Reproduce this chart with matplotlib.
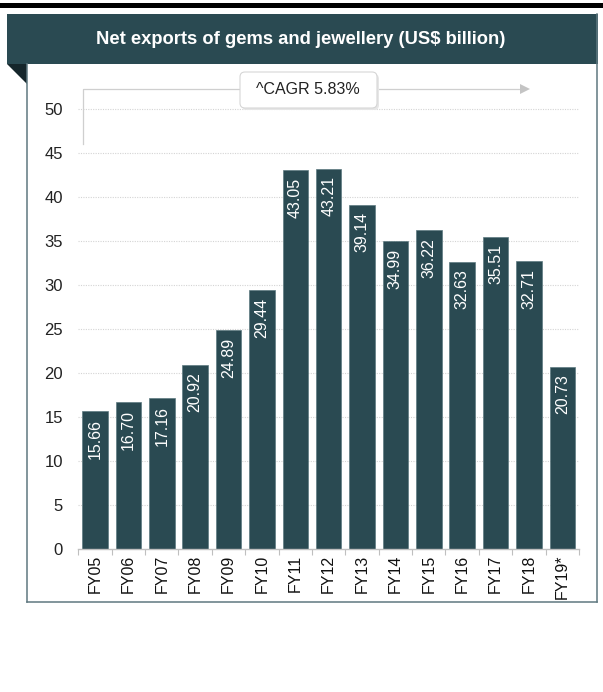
import matplotlib
matplotlib.use("Agg")
import matplotlib.pyplot as plt
from matplotlib.patches import Rectangle, Polygon, FancyBboxPatch
from matplotlib.lines import Line2D
from matplotlib.transforms import IdentityTransform

plt.rcParams["font.family"] = ["Liberation Sans", "DejaVu Sans"]

# data
categories = ["FY05", "FY06", "FY07", "FY08", "FY09", "FY10", "FY11", "FY12",
              "FY13", "FY14", "FY15", "FY16", "FY17", "FY18", "FY19*"]
values = [15.66, 16.70, 17.16, 20.92, 24.89, 29.44, 43.05, 43.21,
          39.14, 34.99, 36.22, 32.63, 35.51, 32.71, 20.73]
yticks = list(range(0, 55, 5))
title = "Net exports of gems and jewellery (US$ billion)"
cagr_text = "^CAGR 5.83%"

W, H = 603, 692
dark = "#2a4a52"
fig = plt.figure(figsize=(W / 100, H / 100), dpi=100)
fig.patch.set_facecolor("white")
pix = IdentityTransform()


def P(x, y):
    # pixel coords measured from the top-left corner
    return (x, H - y)


# top black rule and header band
fig.add_artist(Rectangle(P(0, 7.5), W, 4.5, transform=pix, color="black", lw=0))
fig.add_artist(Rectangle(P(7, 64), 591, 50, transform=pix, color=dark, lw=0))
fig.add_artist(Polygon([P(7, 64), P(27, 64), P(27, 84)], transform=pix,
                       closed=True, color="#15262b", lw=0))
fig.text(301 / W, 1 - 39 / H, title, color="white", fontsize=13.2,
         fontweight="bold", ha="center", va="center")

# panel border
border = "#5f7880"
for xs, ys in [([27, 27], [64, 602]), ([27, 597], [602, 602]), ([597, 597], [14, 602])]:
    pts = [P(x, y) for x, y in zip(xs, ys)]
    fig.add_artist(Line2D([p[0] for p in pts], [p[1] for p in pts],
                          transform=pix, color=border, lw=1.1))

# chart
ax = fig.add_axes([78.3 / W, (H - 549) / H, 500.7 / W, 484 / H])
ax.patch.set_visible(False)
x = list(range(len(categories)))
ax.bar(x, values, width=0.765, color=dark, edgecolor="#5d7a80",
       linewidth=0.5, zorder=2)
for yv in yticks[1:]:
    ax.axhline(yv, color="#d4d4d4", lw=0.8, ls=(0, (1, 1.2)), zorder=0)
for i, v in enumerate(values):
    ax.annotate(f"{v:.2f}", (i, v), xytext=(0, -5.5), textcoords="offset points",
                rotation=90, ha="center", va="top", color="white", fontsize=11.5,
                zorder=3)

ax.set_xlim(-0.5, len(categories) - 0.5)
ax.set_ylim(0, 55)
ax.set_yticks(yticks)
ax.set_yticklabels([str(t) for t in yticks])
ax.set_xticks(x)
ax.set_xticklabels(categories, rotation=90)
ax.set_xticks([i - 0.5 for i in range(len(categories) + 1)], minor=True)
ax.tick_params(axis="x", which="major", length=0, pad=4, labelsize=11.5,
               labelcolor="#111111")
ax.tick_params(axis="x", which="minor", length=4, width=0.8, color="#bfbfbf",
               direction="out")
ax.tick_params(axis="y", length=0, pad=11, labelsize=12, labelcolor="#222222")
for s in ["top", "right", "left"]:
    ax.spines[s].set_visible(False)
ax.spines["bottom"].set_color("#bfbfbf")
ax.spines["bottom"].set_linewidth(1.0)

# CAGR bracket and arrow
bx = [P(83, 144), P(83, 89), P(520, 89)]
fig.add_artist(Line2D([p[0] for p in bx], [p[1] for p in bx], transform=pix,
                      color="#cfcfcf", lw=0.9, zorder=4))
fig.add_artist(Polygon([P(520, 84), P(530, 89), P(520, 94)], transform=pix,
                       closed=True, color="#c4c4c4", lw=0, zorder=4))
fig.add_artist(FancyBboxPatch(P(242, 110), 137, 36, transform=pix,
                              boxstyle="round,pad=0,rounding_size=5",
                              facecolor="#e6e6e6", edgecolor="none", zorder=5))
fig.add_artist(FancyBboxPatch(P(240, 108), 137, 36, transform=pix,
                              boxstyle="round,pad=0,rounding_size=5",
                              facecolor="white", edgecolor="#d6d6d6", lw=0.8,
                              zorder=6))
fig.text(308 / W, 1 - 90 / H, cagr_text, fontsize=11.5, color="#222222",
         ha="center", va="center", zorder=7)

fig.savefig("out.png", dpi=100)
